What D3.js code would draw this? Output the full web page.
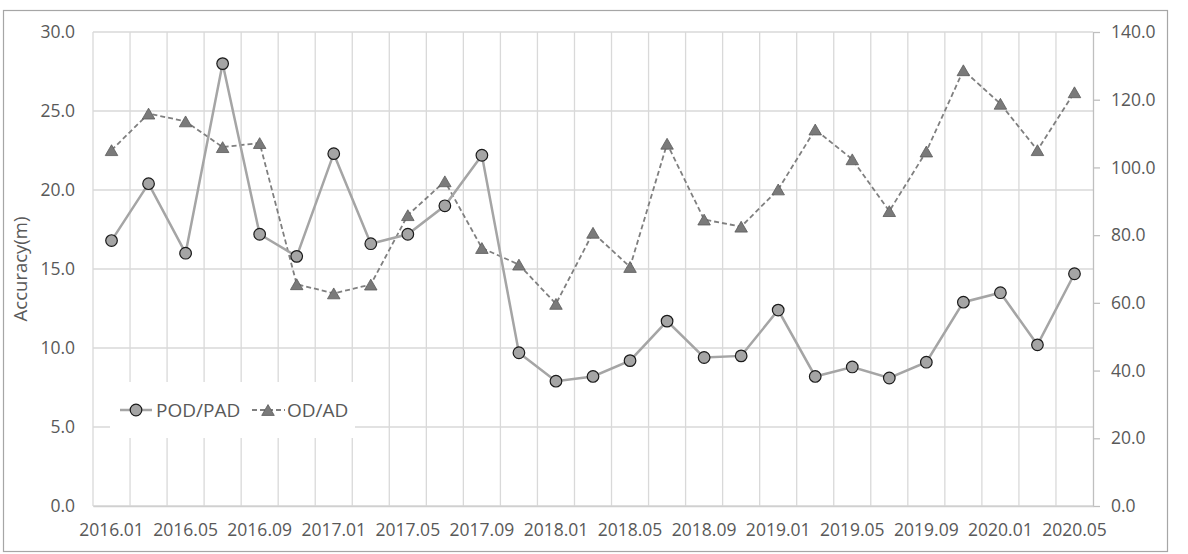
<!DOCTYPE html>
<html>
<head>
<meta charset="utf-8">
<script src="https://cdn.jsdelivr.net/npm/d3@7"></script>
<style>
  body { margin: 0; background: #fff; }
  text { font-family: 'Open Sans', 'Noto Sans', sans-serif; fill: #595959; }
</style>
</head>
<body>
<div id="content"></div>
<script>
// Categories (every two months)
const months = ['2016.01', '2016.03', '2016.05', '2016.07', '2016.09', '2016.11',
                '2017.01', '2017.03', '2017.05', '2017.07', '2017.09', '2017.11',
                '2018.01', '2018.03', '2018.05', '2018.07', '2018.09', '2018.11',
                '2019.01', '2019.03', '2019.05', '2019.07', '2019.09', '2019.11',
                '2020.01', '2020.03', '2020.05'];

// POD/PAD on left axis, OD/AD on right axis
const podPad = [16.8, 20.4, 16.0, 28.0, 17.2, 15.8, 22.3, 16.6, 17.2, 19.0, 22.2, 9.7,
                7.9, 8.2, 9.2, 11.7, 9.4, 9.5, 12.4, 8.2, 8.8, 8.1, 9.1, 12.9, 13.5, 10.2, 14.7];
const odAd = [105.1, 115.9, 113.6, 106.0, 107.2, 65.5, 62.8, 65.4, 85.9, 95.9, 76.2, 71.3,
              59.7, 80.7, 70.6, 107.0, 84.6, 82.5, 93.5, 111.2, 102.4, 87.1, 104.7, 128.7,
              118.8, 105.1, 122.2];

const leftTicks = [0, 5, 10, 15, 20, 25, 30];
const rightTicks = [0, 20, 40, 60, 80, 100, 120, 140];
const seriesNames = ['POD/PAD', 'OD/AD'];

const width = 1188;
const height = 554;
const margin = {top: 32, right: 95, bottom: 48, left: 93};
const plotW = width - margin.left - margin.right;
const plotH = height - margin.top - margin.bottom;

let svg = d3.select('#content')
            .append('svg')
            .attr('width', width)
            .attr('height', height);

// Outer chart border
svg.append('rect')
   .attr('x', 3.5)
   .attr('y', 10.5)
   .attr('width', 1164)
   .attr('height', 541)
   .attr('fill', '#fff')
   .attr('stroke', '#a6a6a6')
   .attr('stroke-width', 1.2);

let g = svg.append('g')
           .attr('transform', 'translate(' + margin.left + ',' + margin.top + ')');

let x = d3.scaleBand()
          .domain(months)
          .range([0, plotW])
          .padding(0);

let y = d3.scaleLinear()
          .domain([0, 30])
          .range([plotH, 0]);

let y2 = d3.scaleLinear()
           .domain([0, 140])
           .range([plotH, 0]);

let cx = (d, i) => x(months[i]) + x.bandwidth() / 2;

// Horizontal gridlines
g.append('g')
 .selectAll('line')
 .data(leftTicks)
 .enter()
 .append('line')
 .attr('x1', 0)
 .attr('x2', plotW)
 .attr('y1', (d) => y(d))
 .attr('y2', (d) => y(d))
 .attr('stroke', '#d9d9d9')
 .attr('stroke-width', 1.3);

// Vertical gridlines between categories
g.append('g')
 .selectAll('line')
 .data(months)
 .enter()
 .append('line')
 .attr('x1', (d) => x(d))
 .attr('x2', (d) => x(d))
 .attr('y1', 0)
 .attr('y2', plotH)
 .attr('stroke', '#d9d9d9')
 .attr('stroke-width', 1.3);

// Left axis labels
let leftAxis = g.append('g')
                .call(d3.axisLeft(y).tickValues(leftTicks).tickFormat(d3.format('.1f')).tickSize(0).tickPadding(18));
leftAxis.select('.domain').remove();
leftAxis.selectAll('text').style('font-size', '17.5px').attr('fill', '#595959');

// Right axis
let rightAxis = g.append('g')
                 .attr('transform', 'translate(' + plotW + ',0)')
                 .call(d3.axisRight(y2).tickValues(rightTicks).tickFormat(d3.format('.1f')).tickSize(7).tickSizeOuter(0).tickPadding(11));
rightAxis.select('.domain').attr('stroke', '#bfbfbf').attr('stroke-width', 1.3);
rightAxis.selectAll('line').attr('stroke', '#bfbfbf').attr('stroke-width', 1.3);
rightAxis.selectAll('text').style('font-size', '17.5px').attr('fill', '#595959');

// Bottom axis, labels on every other category
let bottomAxis = g.append('g')
                  .attr('transform', 'translate(0,' + plotH + ')')
                  .call(d3.axisBottom(x).tickValues(months.filter((d, i) => i % 2 === 0)).tickSize(0).tickPadding(18));
bottomAxis.select('.domain').attr('stroke', '#d0d0d0').attr('stroke-width', 1.3);
bottomAxis.selectAll('text').style('font-size', '17.5px').attr('fill', '#595959');

// Y axis title
svg.append('text')
   .attr('transform', 'translate(27,' + (margin.top + plotH / 2) + ') rotate(-90)')
   .attr('text-anchor', 'middle')
   .style('font-size', '18.5px')
   .text('Accuracy(m)');

// Triangle marker centred on its bounding box (like the spreadsheet marker)
const triangle = {
  draw(context, size) {
    let s = Math.sqrt(size * 4 / Math.sqrt(3));
    let h = s * Math.sqrt(3) / 2;
    context.moveTo(0, -h / 2);
    context.lineTo(s / 2, h / 2);
    context.lineTo(-s / 2, h / 2);
    context.closePath();
  }
};
let tri = d3.symbol().type(triangle).size(68);

// OD/AD dashed line
let line2 = d3.line()
              .x(cx)
              .y((d) => y2(d));

g.append('path')
 .datum(odAd)
 .attr('d', line2)
 .attr('fill', 'none')
 .attr('stroke', '#7f7f7f')
 .attr('stroke-width', 1.8)
 .attr('stroke-dasharray', '5,3');

// POD/PAD solid line
let line1 = d3.line()
              .x(cx)
              .y((d) => y(d));

g.append('path')
 .datum(podPad)
 .attr('d', line1)
 .attr('fill', 'none')
 .attr('stroke', '#a5a5a5')
 .attr('stroke-width', 2.5);

g.selectAll('.tri')
 .data(odAd)
 .enter()
 .append('path')
 .attr('class', 'tri')
 .attr('d', tri)
 .attr('transform', (d, i) => 'translate(' + cx(d, i) + ',' + y2(d) + ')')
 .attr('fill', '#7a7a7a')
 .attr('stroke', '#5a5a5a')
 .attr('stroke-width', 0.8);

g.selectAll('.dot')
 .data(podPad)
 .enter()
 .append('circle')
 .attr('class', 'dot')
 .attr('r', 5.8)
 .attr('cx', cx)
 .attr('cy', (d) => y(d))
 .attr('fill', '#a5a5a5')
 .attr('stroke', '#1a1a1a')
 .attr('stroke-width', 1.2);

// Legend
let legend = svg.append('g');
legend.append('rect')
      .attr('x', 110)
      .attr('y', 382)
      .attr('width', 245)
      .attr('height', 56)
      .attr('fill', '#fff');

legend.append('line')
      .attr('x1', 120).attr('x2', 152)
      .attr('y1', 410).attr('y2', 410)
      .attr('stroke', '#a5a5a5')
      .attr('stroke-width', 2.5);
legend.append('circle')
      .attr('cx', 136).attr('cy', 410).attr('r', 5.8)
      .attr('fill', '#a5a5a5')
      .attr('stroke', '#1a1a1a')
      .attr('stroke-width', 1.2);
legend.append('text')
      .attr('x', 156).attr('y', 410)
      .attr('dy', '0.35em')
      .style('font-size', '19px')
      .text(seriesNames[0]);

legend.append('line')
      .attr('x1', 252).attr('x2', 285)
      .attr('y1', 410).attr('y2', 410)
      .attr('stroke', '#7f7f7f')
      .attr('stroke-width', 1.8)
      .attr('stroke-dasharray', '5,3');
legend.append('path')
      .attr('d', tri)
      .attr('transform', 'translate(268,410)')
      .attr('fill', '#7a7a7a')
      .attr('stroke', '#5a5a5a')
      .attr('stroke-width', 0.8);
legend.append('text')
      .attr('x', 287).attr('y', 410)
      .attr('dy', '0.35em')
      .style('font-size', '19px')
      .text(seriesNames[1]);
</script>
</body>
</html>
